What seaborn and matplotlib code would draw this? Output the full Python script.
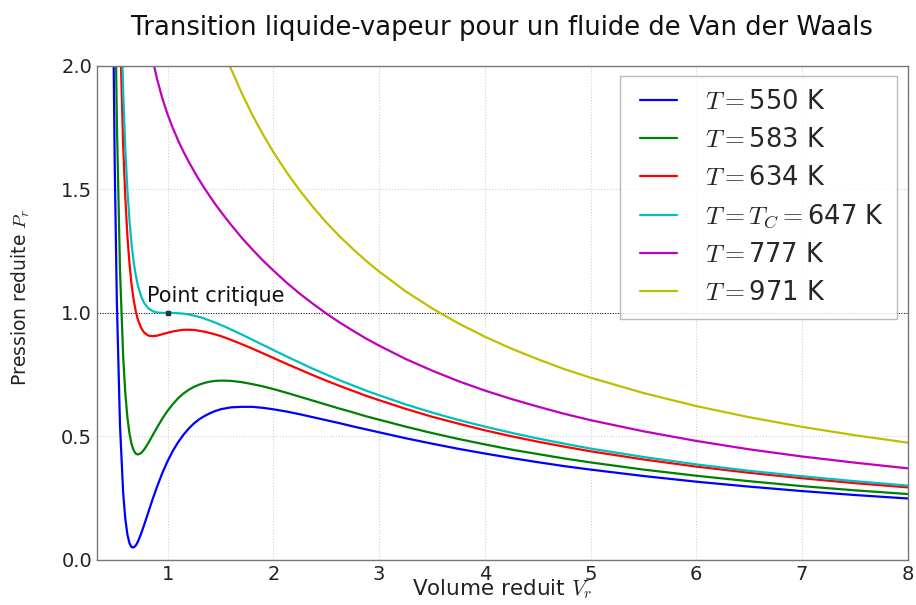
import numpy as np
import pandas as pd
import matplotlib
matplotlib.use("Agg")
import matplotlib.pyplot as plt
from matplotlib.lines import Line2D
from matplotlib.legend_handler import HandlerLine2D
import seaborn as sns

# Reduced volume grid shared by every isotherm
volume = [0.45, 0.48, 0.50, 0.52, 0.55, 0.58, 0.60, 0.62, 0.64, 0.66, 0.68, 0.70,
          0.72, 0.75, 0.78, 0.82, 0.86, 0.90, 0.95, 1.00, 1.05, 1.10,
          1.15, 1.20, 1.25, 1.30, 1.35, 1.40, 1.45, 1.50, 1.55, 1.60,
          1.70, 1.80, 1.90, 2.00,
          2.125, 2.25, 2.375, 2.50, 2.625, 2.75, 2.875, 3.00,
          3.25, 3.50, 3.75, 4.00, 4.25, 4.50, 4.75, 5.00,
          5.50, 6.00, 6.50, 7.00, 7.50, 8.00]

# Reduced pressure along each isotherm
p_550 = [4.614, 2.434, 1.600, 1.048, 0.544, 0.271, 0.167, 0.103, 0.067, 0.052, 0.051, 0.059,
         0.075, 0.107, 0.144, 0.196, 0.248, 0.296, 0.352, 0.400, 0.442, 0.477,
         0.507, 0.532, 0.553, 0.570, 0.583, 0.594, 0.603, 0.610, 0.614, 0.618,
         0.620, 0.620, 0.616, 0.610,
         0.601, 0.590, 0.578, 0.566, 0.554, 0.541, 0.529, 0.517,
         0.493, 0.471, 0.450, 0.431, 0.413, 0.396, 0.380, 0.366,
         0.340, 0.317, 0.297, 0.279, 0.263, 0.249]
p_583 = [5.780, 3.361, 2.416, 1.777, 1.172, 0.823, 0.677, 0.577, 0.511, 0.468, 0.443, 0.430,
         0.427, 0.433, 0.448, 0.475, 0.506, 0.536, 0.572, 0.604, 0.631, 0.655,
         0.674, 0.689, 0.701, 0.710, 0.717, 0.722, 0.725, 0.726, 0.726, 0.725,
         0.720, 0.712, 0.703, 0.692,
         0.677, 0.661, 0.645, 0.629, 0.613, 0.598, 0.582, 0.568,
         0.540, 0.514, 0.490, 0.468, 0.447, 0.429, 0.411, 0.395,
         0.366, 0.341, 0.319, 0.299, 0.282, 0.267]
p_634 = [7.585, 4.797, 3.680, 2.905, 2.144, 1.677, 1.467, 1.312, 1.198, 1.113, 1.051, 1.005,
         0.972, 0.939, 0.920, 0.908, 0.906, 0.908, 0.914, 0.920, 0.925, 0.929,
         0.932, 0.932, 0.931, 0.928, 0.924, 0.919, 0.913, 0.907, 0.899, 0.891,
         0.874, 0.856, 0.837, 0.818,
         0.794, 0.771, 0.748, 0.726, 0.705, 0.685, 0.665, 0.647,
         0.612, 0.580, 0.552, 0.525, 0.501, 0.479, 0.459, 0.440,
         0.407, 0.378, 0.353, 0.331, 0.311, 0.294]
p_647 = [8.042, 5.161, 4.000, 3.191, 2.390, 1.893, 1.667, 1.498, 1.372, 1.276, 1.204, 1.150,
         1.110, 1.067, 1.039, 1.018, 1.007, 1.002, 1.000, 1.000, 1.000, 0.999,
         0.997, 0.994, 0.989, 0.984, 0.977, 0.969, 0.961, 0.952, 0.943, 0.933,
         0.913, 0.892, 0.871, 0.850,
         0.824, 0.799, 0.774, 0.751, 0.728, 0.707, 0.686, 0.667,
         0.630, 0.597, 0.567, 0.540, 0.515, 0.492, 0.471, 0.451,
         0.417, 0.387, 0.361, 0.339, 0.319, 0.301]
p_777 = [12.637, 8.816, 7.216, 6.062, 4.864, 4.066, 3.677, 3.368, 3.119, 2.917, 2.751, 2.612,
         2.496, 2.353, 2.239, 2.119, 2.025, 1.948, 1.869, 1.804, 1.748, 1.698,
         1.653, 1.612, 1.574, 1.538, 1.504, 1.472, 1.441, 1.412, 1.384, 1.357,
         1.305, 1.258, 1.213, 1.172,
         1.123, 1.078, 1.037, 0.998, 0.962, 0.929, 0.897, 0.868,
         0.814, 0.767, 0.724, 0.686, 0.652, 0.621, 0.592, 0.566,
         0.521, 0.482, 0.448, 0.419, 0.394, 0.371]
p_971 = [19.494, 14.270, 12.016, 10.348, 8.557, 7.309, 6.677, 6.158, 5.728, 5.366, 5.058, 4.794,
         4.565, 4.273, 4.030, 3.763, 3.544, 3.360, 3.167, 3.004, 2.864, 2.742,
         2.633, 2.535, 2.447, 2.366, 2.291, 2.222, 2.158, 2.098, 2.041, 1.988,
         1.891, 1.803, 1.724, 1.652,
         1.570, 1.496, 1.429, 1.367, 1.311, 1.260, 1.212, 1.168,
         1.088, 1.019, 0.958, 0.904, 0.856, 0.813, 0.773, 0.738,
         0.676, 0.623, 0.578, 0.539, 0.505, 0.475]

labels = [r"$T=$550 K", r"$T=$583 K", r"$T=$634 K",
          r"$T=T_C=$647 K", r"$T=$777 K", r"$T=$971 K"]
series = [p_550, p_583, p_634, p_647, p_777, p_971]
colors = ["#0000ff", "#008000", "#ff0000", "#00bfbf", "#bf00bf", "#bfbf00"]

x_ticks = [1, 2, 3, 4, 5, 6, 7, 8]
y_ticks = [0.0, 0.5, 1.0, 1.5, 2.0]

df = pd.concat(
    [pd.DataFrame({"V": volume, "P": p, "iso": lab}) for p, lab in zip(series, labels)],
    ignore_index=True,
)

sns.set_theme(style="white")
plt.rcParams["font.family"] = ["DejaVu Sans"]
plt.rcParams["mathtext.fontset"] = "cm"

fig = plt.figure(figsize=(9.16, 6.05), dpi=100)
ax = fig.add_axes([0.106, 0.0744, 0.885, 0.8166])

sns.lineplot(data=df, x="V", y="P", hue="iso", hue_order=labels,
             palette=dict(zip(labels, colors)), sort=False, estimator=None,
             linewidth=1.6, ax=ax)

# Critical isobar and critical point
ax.axhline(1.0, color="black", linestyle=":", linewidth=0.7, zorder=1)
ax.plot([1.0], [1.0], marker="s", markersize=2.2, color="#1a3a3a", zorder=5)
ax.text(0.81, 1.045, "Point critique", fontsize=15, color="#111111")

ax.set_xlim(1 / 3, 8)
ax.set_ylim(0, 2)
ax.set_xticks(x_ticks)
ax.set_yticks(y_ticks)
ax.set_yticklabels([f"{v:.1f}" for v in y_ticks])
ax.tick_params(labelsize=14, length=0, pad=3.5, colors="#222222")
ax.grid(True, color="#d0d0d0", linestyle=":", linewidth=0.8)
for s in ax.spines.values():
    s.set_color("#777777")
    s.set_linewidth(1.0)

ax.set_xlabel(r"Volume reduit $V_r$", fontsize=15.5, labelpad=-4.5, color="#222222")
ax.set_ylabel(r"Pression reduite $P_r$", fontsize=13.5, color="#222222")
ax.yaxis.set_label_coords(-0.080, 0.532)
ax.set_title("Transition liquide-vapeur pour un fluide de Van der Waals",
             fontsize=18.6, pad=22, color="#111111")

leg = ax.legend(loc="upper right", fontsize=18.5, frameon=True, fancybox=False,
                edgecolor="#aaaaaa", handlelength=1.71, handletextpad=1.1,
                labelspacing=0.46, borderpad=0.5, borderaxespad=0.4,
                handler_map={Line2D: HandlerLine2D(xpad=0.27)})
leg.get_frame().set_linewidth(1.0)
for line in leg.get_lines():
    line.set_linewidth(1.6)

fig.savefig("out.png", dpi=100)
